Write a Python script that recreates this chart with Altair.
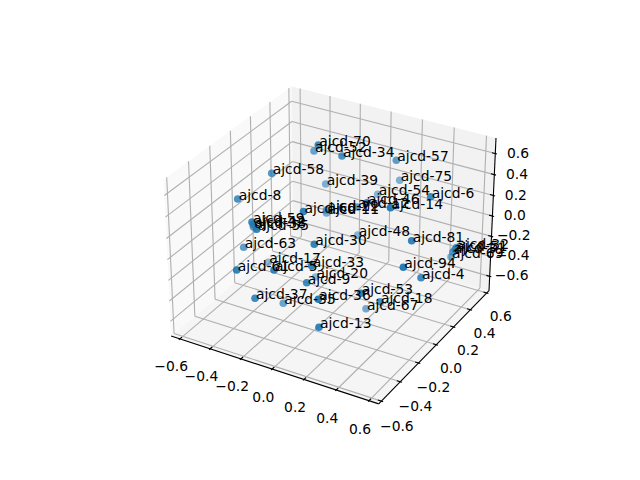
import numpy as np
import pandas as pd
import altair as alt

# Point readings (horizontal, vertical position on the projected view plane) and depth shade
labels = ["ajcd-70","ajcd-52","ajcd-34","ajcd-57","ajcd-58","ajcd-75","ajcd-39","ajcd-8","ajcd-54","ajcd-6",
          "ajcd-46","ajcd-12","ajcd-14","ajcd-60","ajcd-22","ajcd-11","ajcd-59","ajcd-42","ajcd-38","ajcd-55",
          "ajcd-48","ajcd-81","ajcd-30","ajcd-63","ajcd-32","ajcd-51","ajcd-31","ajcd-69","ajcd-17","ajcd-33",
          "ajcd-94","ajcd-61","ajcd-5","ajcd-4","ajcd-20","ajcd-9","ajcd-53","ajcd-37","ajcd-36","ajcd-35",
          "ajcd-18","ajcd-67","ajcd-13"]
view_h = [318.3,314,342,396.3,271.7,399.7,325.7,237.7,377.7,430.7,
          367,357,390.5,303.5,326.5,326.5,252,253,253.5,256.7,
          357.7,411.7,314.3,243.7,456.5,455,453,451,268.3,311.7,
          403.3,236.7,274,421,315.5,306.7,360.7,255,318.3,283.3,
          380,366,319]
view_v = [145,151,156,160.3,173.3,180.3,184,199,194.3,196.7,
          202.7,207,207.7,211.5,210,213,222,224.5,227,229.3,
          235,240.7,244.3,247.3,247.5,249.5,252,257,262.3,265.7,
          267.3,270,270,277.7,277,282.7,293.3,298.3,299.3,303.3,
          301.7,308.7,327.3]
shade = [.85,.65,.8,.7,.75,.55,.55,.8,.5,.85,
         .85,.7,.95,.9,.7,.6,.85,.7,.7,.9,
         .5,.9,.9,.7,.75,.75,.7,.6,.5,.9,
         .95,.9,.9,.85,.5,.85,.9,.85,.95,.65,
         .8,.6,.9]

tick_vals = [-0.6,-0.4,-0.2,0.0,0.2,0.4,0.6]
tick_text = ["\u22120.6","\u22120.4","\u22120.2","0.0","0.2","0.4","0.6"]
xlim = (-0.632,0.632)
ylim = (-0.603,0.603)
zlim = (-0.716,0.716)
elev, azim, dist = 30.0, -60.0, 10.0
off_x = 0.095
off_y = 0.0906
off_z = 0.197

# 3-D view projection
aspect = np.array([4.0,4.0,3.0])
aspect = aspect*1.8294640721620434/np.linalg.norm(aspect)
lims = np.array([xlim,ylim,zlim])
R = aspect/2
e, a = np.radians(elev), np.radians(azim)
eye = R + dist*np.array([np.cos(e)*np.cos(a),np.cos(e)*np.sin(a),np.sin(e)])
w = (eye-R)/np.linalg.norm(eye-R)
u = np.cross([0,0,1.0],w); u /= np.linalg.norm(u)
v = np.cross(w,u)
def project(p):
    q = (np.array(p)-lims[:,0])/(lims[:,1]-lims[:,0])*aspect - eye
    d = -w.dot(q)
    xv, yv = u.dot(q)/d, v.dot(q)/d
    sx = 143.2 + (xv+0.095)/0.185*369.6
    sy = 427.2 - (yv+0.095)/0.185*369.6
    return sx, sy

d = (lims[:,1]-lims[:,0])/12
lo = lims[:,0]-d/4
hi = lims[:,1]+d/4

def polygon(corners):
    pts = [project(c) for c in corners]
    xs = sorted({round(p[0],3) for p in pts})
    rows = []
    n = len(pts)
    for x in xs:
        ys = []
        for i in range(n):
            (x0,y0),(x1,y1) = pts[i],pts[(i+1)%n]
            if min(x0,x1)-1e-3 <= x <= max(x0,x1)+1e-3:
                if abs(x1-x0) < 1e-6:
                    ys += [y0,y1]
                else:
                    ys.append(y0+(x-x0)/(x1-x0)*(y1-y0))
        rows.append(dict(x=x,y=min(ys),y2=max(ys)))
    return pd.DataFrame(rows)

x_scale = alt.Scale(domain=[8,632],range=[0,624])
y_scale = alt.Scale(domain=[8,472],range=[0,464])
X = alt.X("x:Q",scale=x_scale,axis=None)
Y = alt.Y("y:Q",scale=y_scale,axis=None)

def pane(corners,color):
    return alt.Chart(polygon(corners)).mark_area(color=color,opacity=1,interpolate="linear",strokeWidth=0).encode(
        x=X,y=Y,y2="y2:Q")

floor = pane([(lo[0],lo[1],lo[2]),(hi[0],lo[1],lo[2]),(hi[0],hi[1],lo[2]),(lo[0],hi[1],lo[2])],"#f5f5f5")
left = pane([(lo[0],lo[1],lo[2]),(lo[0],hi[1],lo[2]),(lo[0],hi[1],hi[2]),(lo[0],lo[1],hi[2])],"#f9f9f9")
right = pane([(lo[0],hi[1],lo[2]),(hi[0],hi[1],lo[2]),(hi[0],hi[1],hi[2]),(lo[0],hi[1],hi[2])],"#f2f2f2")

def seg(p,q):
    a1,b1 = project(p); a2,b2 = project(q)
    return dict(x=a1,y=b1,x2=a2,y2=b2)

grid, frame = [], []
for t in tick_vals:
    grid.append(seg((t,lo[1],lo[2]),(t,hi[1],lo[2])))
    grid.append(seg((t,hi[1],lo[2]),(t,hi[1],hi[2])))
    grid.append(seg((hi[0],t,lo[2]),(lo[0],t,lo[2])))
    grid.append(seg((lo[0],t,lo[2]),(lo[0],t,hi[2])))
    grid.append(seg((lo[0],lo[1],t),(lo[0],hi[1],t)))
    grid.append(seg((lo[0],hi[1],t),(hi[0],hi[1],t)))
    frame.append(seg((t,lo[1]-0.1*d[1],lo[2]),(t,lo[1]+0.2*d[1],lo[2])))
    frame.append(seg((hi[0]+0.1*d[0],t,lo[2]),(hi[0]-0.2*d[0],t,lo[2])))
    frame.append(seg((hi[0]+0.1*d[0],hi[1],t),(hi[0]-0.2*d[0],hi[1],t)))
frame.append(seg((lo[0],lo[1],lo[2]),(hi[0],lo[1],lo[2])))
frame.append(seg((hi[0],lo[1],lo[2]),(hi[0],hi[1],lo[2])))
frame.append(seg((hi[0],hi[1],lo[2]),(hi[0],hi[1],hi[2])))

def rules(rows,color):
    return alt.Chart(pd.DataFrame(rows)).mark_rule(color=color,strokeWidth=1.11).encode(
        x=X,y=Y,x2="x2:Q",y2="y2:Q")

tl = []
for t,s in zip(tick_vals,tick_text):
    a1,b1 = project((t,lo[1]-off_y,lo[2]-off_z)); tl.append(dict(x=a1,y=b1,t=s))
    a1,b1 = project((hi[0]+off_x,t,lo[2]-off_z)); tl.append(dict(x=a1,y=b1,t=s))
    a1,b1 = project((hi[0]+off_x,hi[1]+off_y,t-0.03)); tl.append(dict(x=a1,y=b1,t=s))
tick_labels = alt.Chart(pd.DataFrame(tl)).mark_text(font="DejaVu Sans",fontSize=13.89,color="black",
    align="center",baseline="middle").encode(x=X,y=Y,text="t:N")

df = pd.DataFrame(dict(x=view_h,y=view_v,name=labels,a=shade))
pts = alt.Chart(df).mark_circle(size=58,color="#1f77b4").encode(
    x=X,y=Y,opacity=alt.Opacity("a:Q",scale=None))
names = alt.Chart(df).mark_text(font="DejaVu Sans",fontSize=13.89,color="black",align="left",
    baseline="alphabetic",dx=1,dy=1).encode(x=X,y=Y,text="name:N")

chart = alt.layer(floor,left,right,rules(grid,"#b0b0b0"),rules(frame,"black"),tick_labels,pts,names).properties(
    width=624,height=464,padding=0,autosize=alt.AutoSizeParams(type="none"),background="white"
).configure_view(stroke=None)
chart.save("out.html",embed_options={"renderer":"svg","actions":False})
